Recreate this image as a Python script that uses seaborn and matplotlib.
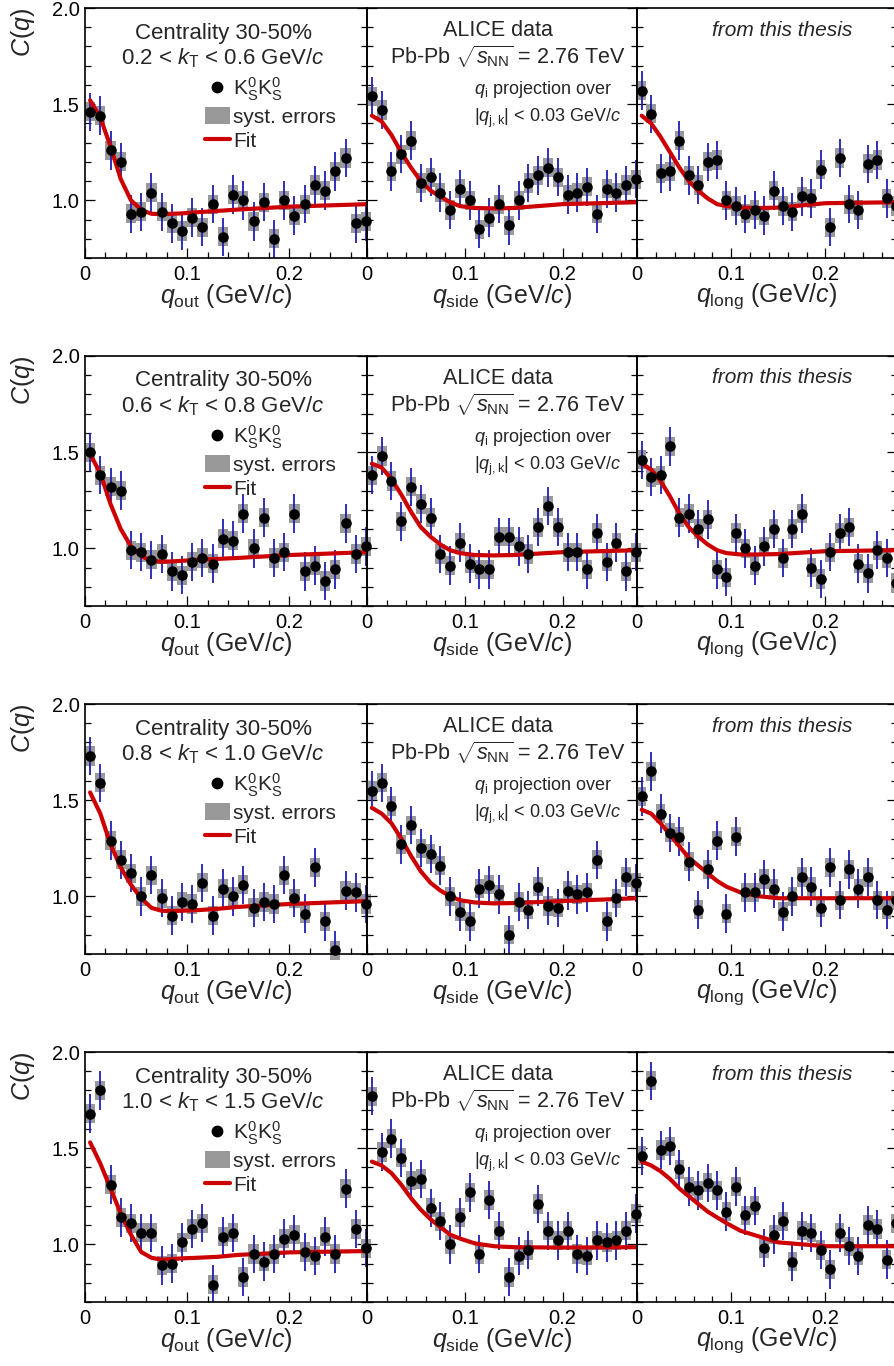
import numpy as np
import pandas as pd
import seaborn as sns
import matplotlib.pyplot as plt
from matplotlib.lines import Line2D
from matplotlib.patches import Patch
from matplotlib.ticker import MultipleLocator, FuncFormatter

# bin centres (GeV/c)
Q = [0.005, 0.015, 0.025, 0.035, 0.045, 0.055, 0.065, 0.075, 0.085, 0.095,
     0.105, 0.115, 0.125, 0.135, 0.145, 0.155, 0.165, 0.175, 0.185, 0.195,
     0.205, 0.215, 0.225, 0.235, 0.245, 0.255, 0.265, 0.275]
# q values where the fit curve was read
FIT_Q = [0.005, 0.015, 0.025, 0.035, 0.045, 0.055, 0.065, 0.075, 0.085, 0.095,
         0.11, 0.13, 0.15, 0.2, 0.276]

KT_LABELS = ["0.2 < $k_\\mathrm{T}$ < 0.6 GeV/$c$",
             "0.6 < $k_\\mathrm{T}$ < 0.8 GeV/$c$",
             "0.8 < $k_\\mathrm{T}$ < 1.0 GeV/$c$",
             "1.0 < $k_\\mathrm{T}$ < 1.5 GeV/$c$"]
PROJ = ["out", "side", "long"]

# correlation function values, kT bin 1..4
C_OUT_1 = [1.46, 1.44, 1.26, 1.20, 0.93, 0.94, 1.04, 0.94, 0.88, 0.84, 0.91, 0.86, 0.98, 0.81,
           1.03, 1.00, 0.89, 0.99, 0.80, 1.00, 0.92, 0.98, 1.08, 1.05, 1.15, 1.22, 0.88, 0.89]
C_SIDE_1 = [1.54, 1.47, 1.15, 1.24, 1.31, 1.09, 1.12, 1.04, 0.95, 1.06, 1.00, 0.85, 0.91, 0.98,
            0.87, 1.00, 1.09, 1.13, 1.17, 1.12, 1.03, 1.04, 1.07, 0.93, 1.06, 1.04, 1.08, 1.11]
C_LONG_1 = [1.57, 1.45, 1.14, 1.15, 1.31, 1.13, 1.08, 1.20, 1.21, 1.00, 0.97, 0.93, 0.95, 0.92,
            1.05, 0.97, 0.94, 1.02, 1.01, 1.16, 0.86, 1.22, 0.98, 0.95, 1.19, 1.21, 1.01, 0.97]

C_OUT_2 = [1.50, 1.38, 1.32, 1.30, 0.99, 0.98, 0.94, 0.97, 0.88, 0.86, 0.93, 0.95, 0.92, 1.05,
           1.04, 1.18, 1.00, 1.16, 0.95, 0.98, 1.18, 0.88, 0.91, 0.83, 0.89, 1.13, 0.97, 1.01]
C_SIDE_2 = [1.38, 1.48, 1.35, 1.14, 1.32, 1.23, 1.16, 0.97, 0.91, 1.03, 0.92, 0.89, 0.89, 1.06,
            1.06, 1.01, 0.97, 1.11, 1.22, 1.11, 0.98, 0.98, 0.89, 1.08, 0.93, 1.03, 0.88, 0.98]
C_LONG_2 = [1.46, 1.37, 1.38, 1.53, 1.16, 1.18, 1.10, 1.15, 0.89, 0.85, 1.08, 1.00, 0.91, 1.01,
            1.10, 0.95, 1.10, 1.18, 0.90, 0.84, 0.98, 1.08, 1.11, 0.92, 0.87, 0.99, 0.95, 0.82]

C_OUT_3 = [1.73, 1.59, 1.29, 1.19, 1.12, 1.00, 1.11, 0.99, 0.90, 0.97, 0.96, 1.07, 0.90, 1.04,
           1.00, 1.06, 0.94, 0.97, 0.96, 1.11, 0.99, 0.91, 1.15, 0.87, 0.72, 1.03, 1.02, 0.96]
C_SIDE_3 = [1.55, 1.59, 1.47, 1.27, 1.37, 1.25, 1.22, 1.16, 1.00, 0.92, 0.87, 1.04, 1.06, 1.01,
            0.80, 0.97, 0.93, 1.05, 0.95, 0.94, 1.03, 1.01, 1.02, 1.19, 0.87, 0.99, 1.10, 1.07]
C_LONG_3 = [1.52, 1.65, 1.43, 1.33, 1.31, 1.18, 0.93, 1.14, 1.29, 0.91, 1.31, 1.02, 1.02, 1.09,
            1.04, 0.92, 1.00, 1.10, 1.05, 0.94, 1.15, 0.98, 1.14, 1.04, 1.10, 0.98, 0.93, 0.98]

C_OUT_4 = [1.68, 1.80, 1.31, 1.14, 1.11, 1.06, 1.06, 0.89, 0.90, 1.01, 1.08, 1.11, 0.79, 1.04,
           1.06, 0.83, 0.95, 0.91, 0.95, 1.03, 1.05, 0.96, 0.94, 1.04, 0.95, 1.29, 1.08, 0.98]
C_SIDE_4 = [1.77, 1.48, 1.55, 1.45, 1.33, 1.34, 1.19, 1.12, 1.00, 1.14, 1.27, 0.95, 1.23, 1.07,
            0.83, 0.94, 0.97, 1.21, 1.07, 1.02, 1.07, 0.95, 0.94, 1.02, 1.01, 1.02, 1.07, 1.16]
C_LONG_4 = [1.46, 1.85, 1.49, 1.51, 1.39, 1.30, 1.28, 1.32, 1.28, 1.17, 1.30, 1.15, 1.20, 0.98,
            1.05, 1.12, 0.91, 1.07, 1.06, 0.97, 0.87, 1.06, 0.99, 0.94, 1.10, 1.08, 0.92, 1.11]

# fit curves read at FIT_Q
FIT_OUT_1 = [1.52, 1.43, 1.28, 1.11, 1.00, 0.95, 0.93, 0.928, 0.93, 0.932, 0.938, 0.945, 0.952, 0.967, 0.98]
FIT_SIDE_1 = [1.44, 1.41, 1.34, 1.25, 1.17, 1.10, 1.05, 1.02, 0.99, 0.97, 0.96, 0.958, 0.96, 0.98, 0.99]
FIT_LONG_1 = [1.44, 1.40, 1.33, 1.25, 1.17, 1.10, 1.05, 1.01, 0.98, 0.97, 0.962, 0.96, 0.962, 0.985, 0.99]

FIT_OUT_2 = [1.49, 1.39, 1.23, 1.10, 1.01, 0.96, 0.935, 0.93, 0.932, 0.935, 0.94, 0.945, 0.95, 0.965, 0.98]
FIT_SIDE_2 = [1.44, 1.42, 1.36, 1.28, 1.19, 1.11, 1.06, 1.02, 0.99, 0.975, 0.965, 0.963, 0.965, 0.98, 0.99]
FIT_LONG_2 = [1.44, 1.41, 1.35, 1.27, 1.18, 1.11, 1.06, 1.02, 0.99, 0.975, 0.968, 0.968, 0.97, 0.985, 0.99]

FIT_OUT_3 = [1.54, 1.43, 1.27, 1.15, 1.06, 0.99, 0.94, 0.925, 0.923, 0.925, 0.928, 0.935, 0.945, 0.96, 0.975]
FIT_SIDE_3 = [1.46, 1.43, 1.38, 1.30, 1.21, 1.13, 1.07, 1.03, 1.00, 0.98, 0.968, 0.963, 0.965, 0.975, 0.99]
FIT_LONG_3 = [1.45, 1.43, 1.38, 1.32, 1.26, 1.20, 1.16, 1.12, 1.08, 1.05, 1.02, 1.00, 0.99, 0.99, 0.99]

FIT_OUT_4 = [1.53, 1.42, 1.29, 1.16, 1.05, 0.96, 0.93, 0.92, 0.923, 0.927, 0.93, 0.935, 0.945, 0.958, 0.965]
FIT_SIDE_4 = [1.43, 1.41, 1.37, 1.31, 1.24, 1.18, 1.13, 1.09, 1.05, 1.03, 1.005, 0.99, 0.985, 0.983, 0.985]
FIT_LONG_4 = [1.43, 1.41, 1.38, 1.34, 1.29, 1.25, 1.21, 1.17, 1.14, 1.11, 1.07, 1.04, 1.01, 0.99, 0.99]

STAT_ERR = 0.10
SYST_ERR = 0.05

DATA = [[C_OUT_1, C_SIDE_1, C_LONG_1], [C_OUT_2, C_SIDE_2, C_LONG_2],
        [C_OUT_3, C_SIDE_3, C_LONG_3], [C_OUT_4, C_SIDE_4, C_LONG_4]]
FITS = [[FIT_OUT_1, FIT_SIDE_1, FIT_LONG_1], [FIT_OUT_2, FIT_SIDE_2, FIT_LONG_2],
        [FIT_OUT_3, FIT_SIDE_3, FIT_LONG_3], [FIT_OUT_4, FIT_SIDE_4, FIT_LONG_4]]

sns.set_theme(style="ticks")
plt.rcParams["font.family"] = ["Liberation Sans", "DejaVu Sans"]
plt.rcParams["mathtext.fontset"] = "custom"
plt.rcParams["mathtext.rm"] = "Liberation Sans"
plt.rcParams["mathtext.it"] = "Liberation Sans:italic"
plt.rcParams["mathtext.bf"] = "Liberation Sans:bold"
plt.rcParams["mathtext.sf"] = "Liberation Sans"

GREY = "#999999"
BLUE = "#2020b0"
RED = "#cc0000"

W, H = 895, 1366
COLS = [(85, 367), (367, 637), (637, 897)]   # pixel extents of the three panels
ROW_TOP = [8, 356, 704, 1052]
ROW_H = 250

fig = plt.figure(figsize=(W / 100, H / 100), dpi=100)
fig.patch.set_facecolor("white")

for r in range(4):
    for c in range(3):
        x0, x1 = COLS[c]
        ax = fig.add_axes([x0 / W, 1 - (ROW_TOP[r] + ROW_H) / H, (x1 - x0) / W, ROW_H / H])
        ax.set_facecolor("none")
        vals = np.array(DATA[r][c])
        df = pd.DataFrame({"q": Q, "C": vals})
        fit = pd.DataFrame({"q": FIT_Q, "C": FITS[r][c]})

        ax.bar(df["q"], 2 * SYST_ERR, bottom=df["C"] - SYST_ERR, width=0.01,
               color=GREY, linewidth=0, zorder=1, clip_on=False)
        ax.errorbar(df["q"], df["C"], yerr=STAT_ERR, fmt="none", ecolor=BLUE,
                    elinewidth=1.3, capsize=0, zorder=2)
        sns.lineplot(data=fit, x="q", y="C", ax=ax, color=RED, lw=3, zorder=3)
        sns.scatterplot(data=df, x="q", y="C", ax=ax, color="black", s=58,
                        linewidth=0, zorder=4, clip_on=False)

        ax.set_xlim(0, 0.276)
        ax.set_ylim(0.7, 2.0)
        ax.xaxis.set_major_locator(MultipleLocator(0.1))
        ax.xaxis.set_minor_locator(MultipleLocator(0.02))
        ax.yaxis.set_major_locator(MultipleLocator(0.5))
        ax.yaxis.set_minor_locator(MultipleLocator(0.1))
        ax.xaxis.set_major_formatter(FuncFormatter(lambda v, p: "0" if abs(v) < 1e-9 else f"{v:.1f}"))
        ax.yaxis.set_major_formatter(FuncFormatter(lambda v, p: f"{v:.1f}"))
        ax.tick_params(which="both", direction="in", left=True, right=True, top=False,
                       bottom=True, labelleft=(c == 0), labelsize=14.5, colors="black")
        ax.tick_params(axis="x", which="major", pad=5)
        ax.tick_params(axis="y", which="major", pad=4)
        ax.tick_params(which="major", length=7, width=0.9)
        ax.tick_params(which="minor", length=4, width=0.9)
        for sp in ax.spines.values():
            sp.set_linewidth(1.2)
            sp.set_color("black")

        ax.set_xlabel(f"$q_\\mathrm{{{PROJ[c]}}}$ (GeV/$c$)", fontsize=18)
        ax.xaxis.set_label_coords(0.5, -0.095)
        if c == 0:
            ax.set_ylabel("$C$($q$)", fontsize=18, loc="top")
            ax.yaxis.set_label_coords(-0.17, 1.0)
        else:
            ax.set_ylabel("")

        if c == 0:
            ax.text(0.49, 0.9, "Centrality 30-50%", transform=ax.transAxes,
                    ha="center", va="center", fontsize=16)
            ax.text(0.49, 0.8, KT_LABELS[r], transform=ax.transAxes,
                    ha="center", va="center", fontsize=16)
            handles = [Line2D([], [], marker="o", ls="none", color="black", markersize=7.5),
                       Patch(facecolor=GREY, edgecolor="none"),
                       Line2D([], [], color=RED, lw=3)]
            labels = ["$\\mathrm{K}^0_\\mathrm{S}\\mathrm{K}^0_\\mathrm{S}$", "syst. errors", "Fit"]
            ax.legend(handles, labels, loc="upper left", bbox_to_anchor=(0.425, 0.73),
                      frameon=False, fontsize=15, handlelength=1.2, handleheight=0.9,
                      handletextpad=0.15, labelspacing=0.2, borderpad=0, borderaxespad=0)
        elif c == 1:
            ax.text(0.485, 0.91, "ALICE data", transform=ax.transAxes,
                    ha="center", va="center", fontsize=15.5)
            ax.text(0.522, 0.805, "Pb-Pb $\\sqrt{s_\\mathrm{NN}}$ = 2.76 TeV",
                    transform=ax.transAxes, ha="center", va="center", fontsize=15.5)
            ax.text(0.396, 0.672, "$q_\\mathrm{i}$ projection over", transform=ax.transAxes,
                    ha="left", va="center", fontsize=13)
            ax.text(0.396, 0.56, "|$q_\\mathrm{j,k}$| < 0.03 GeV/$c$", transform=ax.transAxes,
                    ha="left", va="center", fontsize=13)
        else:
            ax.text(0.56, 0.912, "from this thesis", transform=ax.transAxes,
                    ha="center", va="center", fontsize=15, style="italic")

fig.savefig("out.png", dpi=100)
plt.close(fig)
